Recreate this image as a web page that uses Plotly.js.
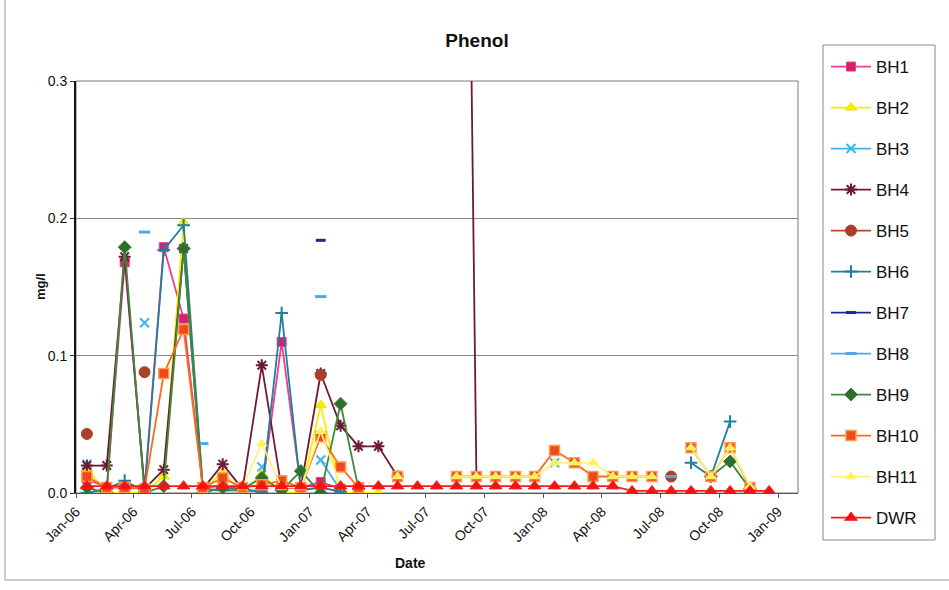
<!DOCTYPE html>
<html>
<head>
<meta charset="utf-8">
<script src="https://cdn.plot.ly/plotly-3.0.1.min.js"></script>
<style>
  html, body { margin: 0; padding: 0; background: #ffffff; }
  #chart { width: 949px; height: 590px; }
</style>
</head>
<body>
<div id="chart"></div>
<script>
// Monthly sampling dates, Jan 2006 to Dec 2008
const months = [
  '2006-01-18','2006-02-18','2006-03-18','2006-04-18','2006-05-18','2006-06-18',
  '2006-07-18','2006-08-18','2006-09-18','2006-10-18','2006-11-18','2006-12-18',
  '2007-01-18','2007-02-18','2007-03-18','2007-04-18','2007-05-18','2007-06-18',
  '2007-07-18','2007-08-18','2007-09-18','2007-10-18','2007-11-18','2007-12-18',
  '2008-01-18','2008-02-18','2008-03-18','2008-04-18','2008-05-18','2008-06-18',
  '2008-07-18','2008-08-18','2008-09-18','2008-10-18','2008-11-18','2008-12-18'
];

// Phenol concentrations (mg/l); null = not sampled
const BH1 = [0.010,0.004,0.168,0.003,0.179,0.127,0.004,0.005,0.003,0.001,0.110,0.004,
             0.008,0.003,null,null,null,null,null,null,null,null,null,null,
             null,null,null,null,null,null,null,null,null,null,null,null];
const BH2 = [0.018,0,0,0,0.012,0.197,0.003,0.015,0,0.014,0,0,
             0.064,0,0,0,null,null,null,null,null,null,null,null,
             null,null,null,null,null,null,null,null,null,null,null,null];
const BH3 = [0.021,null,null,0.124,null,null,null,null,null,0.019,null,null,
             0.024,0.002,null,null,null,null,null,null,null,null,null,null,
             0.022,null,null,null,null,null,null,null,null,null,null,null];
const BH4 = [0.020,0.020,0.172,0.003,0.017,0.178,0.003,0.021,0.003,0.093,0.003,0.004,
             0.087,0.049,0.034,0.034,0.012,null,null,1.2,0.012,null,null,null,
             null,null,null,null,null,null,null,null,null,null,null,null];
const BH5 = [0.043,null,null,0.088,null,null,null,null,null,null,null,null,
             0.086,null,null,null,null,null,null,null,null,null,null,null,
             null,null,null,null,null,null,0.012,null,null,null,null,null];
const BH6 = [0.000,0.003,0.009,0.001,0.177,0.195,0.003,0.002,0.002,0.001,0.131,0.002,
             0.004,0.001,null,null,null,null,null,null,null,null,null,null,
             null,null,null,null,null,null,null,0.022,0.012,0.052,null,null];
const BH7 = [null,null,null,null,null,null,null,null,null,null,null,null,
             0.184,null,null,null,null,null,null,null,null,null,null,null,
             null,null,null,null,null,null,null,null,null,null,null,null];
const BH8 = [null,null,null,0.190,null,null,0.036,null,null,null,null,null,
             0.143,null,null,null,null,null,null,null,null,null,null,null,
             null,null,null,null,null,null,0.012,null,null,null,null,null];
const BH9 = [0.004,0.000,0.179,0.000,0.005,0.178,0.000,0.004,0.003,0.011,0.002,0.016,
             0.000,0.065,0.003,null,null,null,null,null,null,null,null,null,
             null,null,null,null,null,null,null,null,0.012,0.023,0.003,null];
const BH10 = [0.012,0.004,0.004,0.003,0.087,0.119,0.004,0.011,0.004,0.006,0.009,0.004,
              0.041,0.019,0.004,null,0.012,null,null,0.012,0.012,0.012,0.012,0.012,
              0.031,0.022,0.012,0.012,0.012,0.012,null,0.033,0.012,0.033,0.004,null];
const BH11 = [null,null,null,null,null,null,null,null,0.004,0.036,0.004,0.004,
              0.045,0.005,null,null,0.012,null,null,0.012,0.012,0.012,0.012,0.012,
              0.022,0.022,0.022,0.012,0.012,0.012,null,0.033,0.012,0.033,0.005,null];
const DWR = [0.005,0.005,0.005,0.005,0.005,0.005,0.005,0.005,0.005,0.005,0.005,0.005,
             0.005,0.005,0.005,0.005,0.005,0.005,0.005,0.005,0.005,0.005,0.005,0.005,
             0.005,0.005,0.005,0.005,0.0015,0.0015,0.0015,0.0015,0.0015,0.0015,0.0015,0.0015];

// Quarterly axis ticks
const tickDates = ['2006-01-01','2006-04-01','2006-07-01','2006-10-01','2007-01-01','2007-04-01',
                   '2007-07-01','2007-10-01','2008-01-01','2008-04-01','2008-07-01','2008-10-01','2009-01-01'];
const tickLabels = ['Jan-06','Apr-06','Jul-06','Oct-06','Jan-07','Apr-07',
                    'Jul-07','Oct-07','Jan-08','Apr-08','Jul-08','Oct-08','Jan-09'];

function series(name, values, lineColor, symbol, fill, edge, size, edgeWidth) {
  return {
    type: 'scatter', mode: 'lines+markers', name: name, legendgroup: name,
    x: months, y: values, connectgaps: false,
    line: { color: lineColor, width: 1.8 },
    marker: { symbol: symbol, size: size, color: fill, line: { color: edge, width: edgeWidth } }
  };
}

const traces = [
  series('BH1',  BH1,  '#ee3d8c', 'square',          '#d81f66', '#e8408a', 9, 1),
  series('BH2',  BH2,  '#f8ee00', 'triangle-up',     '#f8ee00', '#f0e000', 10, 1),
  series('BH3',  BH3,  '#3cb4ee', 'x-thin-open',     '#3cb4ee', '#3cb4ee', 9, 2),
  series('BH4',  BH4,  '#6e1a36', 'asterisk-open',   '#6e1a36', '#6e1a36', 10, 2),
  series('BH5',  BH5,  '#c0402a', 'circle',          '#a8402a', '#b04028', 11, 1),
  series('BH6',  BH6,  '#1f7f9e', 'cross-thin-open', '#1f7f9e', '#1f7f9e', 9, 2),
  series('BH7',  BH7,  '#1c2a8c', 'line-ew-open',    '#1c2a8c', '#1c2a8c', 7, 3),
  series('BH8',  BH8,  '#4aa8ee', 'line-ew-open',    '#4aa8ee', '#4aa8ee', 8, 3),
  series('BH9',  BH9,  '#3f8a3a', 'diamond',         '#2f6e2c', '#3f8a3a', 10, 1),
  series('BH10', BH10, '#ff6a1a', 'square',          '#ee4a1c', '#ff9a4a', 10, 1.5),
  series('BH11', BH11, '#fff27a', 'triangle-up',     '#fff250', '#fff27a', 9, 1),
  series('DWR',  DWR,  '#ff1a1a', 'triangle-up',     '#ee1414', '#ff1a1a', 11, 1)
];

// Plot area spans 76..798 px horizontally and 81..493 px vertically
const L = 76, R = 798, T = 81, B = 493;
const px = v => (v - L) / (R - L);
const py = v => (B - v) / (B - T);

const layout = {
  width: 949, height: 590,
  margin: { l: L, r: 949 - R, t: T, b: 590 - B },
  paper_bgcolor: '#ffffff', plot_bgcolor: '#ffffff',
  font: { family: 'Arial, "Liberation Sans", sans-serif', color: '#111111' },
  title: {
    text: '<b>Phenol</b>', font: { size: 19, color: '#111111' },
    x: 477 / 949, xref: 'container', xanchor: 'center',
    y: 1 - 40 / 590, yref: 'container', yanchor: 'middle'
  },
  xaxis: {
    type: 'date', range: ['2006-01-01', '2009-02-01'],
    tickmode: 'array', tickvals: tickDates, ticktext: tickLabels,
    tickangle: -45, tickfont: { size: 14, color: '#111111' },
    ticks: 'outside', ticklen: 4, tickcolor: '#555555',
    showgrid: false, zeroline: false,
    showline: true, linecolor: '#555555', linewidth: 1
  },
  yaxis: {
    range: [0, 0.3], dtick: 0.1, tick0: 0, tickformat: '.1f',
    tickfont: { size: 14, color: '#111111' },
    ticks: 'outside', ticklen: 4, tickcolor: '#333333',
    showgrid: true, gridcolor: '#8a8a8a', gridwidth: 1,
    zeroline: false, showline: true, linecolor: '#111111', linewidth: 2
  },
  showlegend: true,
  legend: {
    x: px(826), y: py(49), xanchor: 'left', yanchor: 'top',
    font: { size: 17, color: '#111111' },
    bgcolor: 'rgba(0,0,0,0)', borderwidth: 0,
    tracegroupgap: 15.9, itemwidth: 40, maxheight: 560
  },
  annotations: [
    { text: '<b>Date</b>', xref: 'paper', yref: 'paper', x: px(410), y: py(563),
      xanchor: 'center', yanchor: 'middle',
      showarrow: false, font: { size: 14, color: '#111111' } },
    { text: '<b>mg/l</b>', xref: 'paper', yref: 'paper', x: px(40), y: py(287),
      xanchor: 'center', yanchor: 'middle',
      showarrow: false, textangle: -90, font: { size: 13, color: '#111111' } }
  ],
  shapes: [
    // plot area frame
    { type: 'rect', xref: 'paper', yref: 'paper', x0: 0, x1: 1, y0: 0, y1: 1,
      line: { color: '#7a7a7a', width: 1 }, layer: 'below' },
    // legend frame
    { type: 'rect', xref: 'paper', yref: 'paper', x0: px(823), x1: px(935), y0: py(540), y1: py(45),
      line: { color: '#8a8a8a', width: 1 } },
    // chart frame
    { type: 'rect', xref: 'paper', yref: 'paper', x0: px(5), x1: px(960), y0: py(580), y1: py(-10),
      line: { color: '#9a9a9a', width: 1 } }
  ]
};

Plotly.newPlot('chart', traces, layout, { staticPlot: true, displayModeBar: false });
</script>
</body>
</html>
